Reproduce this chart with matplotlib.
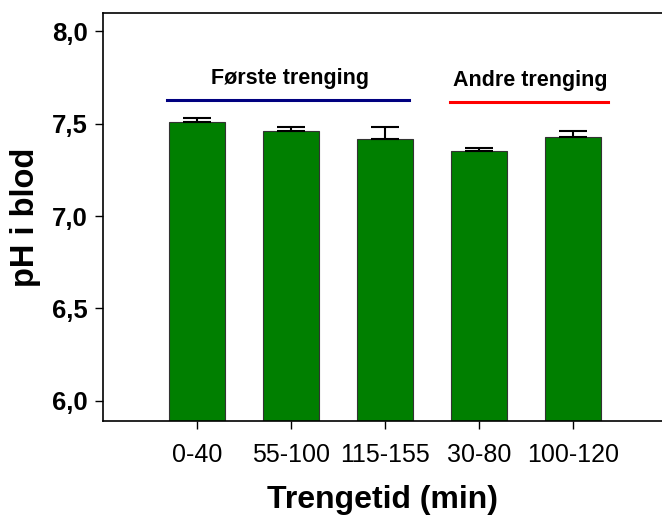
import numpy as np
import matplotlib
matplotlib.use('Agg')
import matplotlib.pyplot as plt

plt.rcParams['font.family'] = ['Liberation Sans', 'DejaVu Sans']

categories = ['0-40', '55-100', '115-155', '30-80', '100-120']
ph_mean = [7.51, 7.46, 7.42, 7.35, 7.43]
ph_err = [0.02, 0.02, 0.06, 0.02, 0.03]
y_ticks = [6.0, 6.5, 7.0, 7.5, 8.0]
y_ticklabels = ['6,0', '6,5', '7,0', '7,5', '8,0']

fig = plt.figure(figsize=(6.62, 5.15), dpi=100)
ax = fig.add_axes([103 / 662, 1 - 421 / 515, 1 - 103 / 662, (421 - 13) / 515])

x = np.arange(len(categories))
ax.bar(x, ph_mean, 0.6, color='#007f00', edgecolor='#333333', linewidth=0.8, zorder=2)
ax.errorbar(x, ph_mean, yerr=[np.zeros(len(ph_err)), ph_err], fmt='none',
            ecolor='black', elinewidth=1.5, capsize=10, capthick=1.5, zorder=3)

# group markers
ax.plot([-0.32, 2.26], [7.627, 7.627], color='#000080', lw=2.2)
ax.plot([2.69, 4.38], [7.616, 7.616], color='#ff0000', lw=2.2)
ax.text(0.99, 7.745, 'Første trenging', ha='center', va='center', fontsize=15.5, fontweight='bold')
ax.text(3.55, 7.735, 'Andre trenging', ha='center', va='center', fontsize=15.5, fontweight='bold')

ax.set_xlim(-1.0, 4.95)
ax.set_ylim(5.89, 8.1)
ax.set_xticks(x)
ax.set_xticklabels(categories, fontsize=18)
ax.set_yticks(y_ticks)
ax.set_yticklabels(y_ticklabels, fontsize=18.5, fontweight='bold')
ax.tick_params(axis='both', direction='out', length=6, width=1)
ax.tick_params(axis='x', pad=10)
ax.tick_params(axis='y', pad=5)
ax.spines['right'].set_visible(False)
for s in ['left', 'bottom', 'top']:
    ax.spines[s].set_linewidth(1.2)

ax.set_xlabel('Trengetid (min)', fontsize=23, fontweight='bold', labelpad=13)
ax.set_ylabel('pH i blod', fontsize=23.5, fontweight='bold', labelpad=8)

fig.savefig('out.png', dpi=100)
